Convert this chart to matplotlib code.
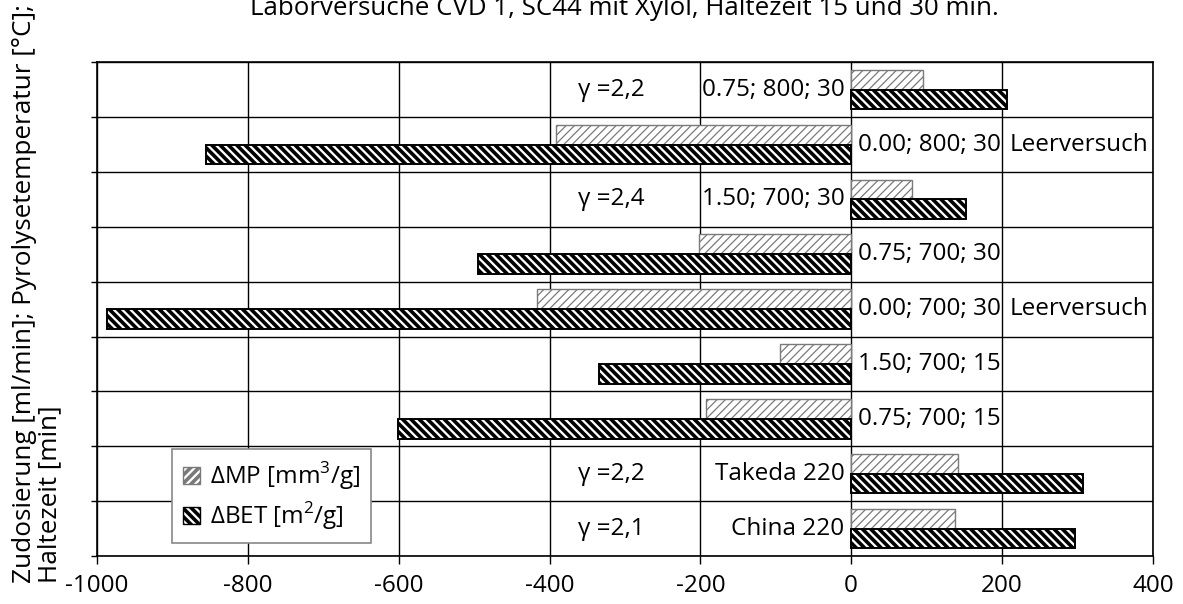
import numpy as np
import matplotlib
matplotlib.use("Agg")
import matplotlib.pyplot as plt
from matplotlib.patches import Patch

plt.rcParams['font.family'] = ['Open Sans', 'DejaVu Sans']
plt.rcParams['mathtext.fontset'] = 'custom'
plt.rcParams['mathtext.rm'] = 'Open Sans'

# --- data, top row first ---
proben = ["0.75; 800; 30", "0.00; 800; 30", "1.50; 700; 30", "0.75; 700; 30",
          "0.00; 700; 30", "1.50; 700; 15", "0.75; 700; 15", "Takeda 220", "China 220"]
d_mp = [95, -392, 80, -202, -416, -94, -193, 142, 138]
d_bet = [207, -855, 152, -495, -987, -334, -601, 308, 297]
gamma = ["γ =2,2", "", "γ =2,4", "", "", "", "", "γ =2,2", "γ =2,1"]
bemerkung = ["", "Leerversuch", "", "", "Leerversuch", "", "", "", ""]
x_ticks = [-1000, -800, -600, -400, -200, 0, 200, 400]

fs = 17.5

fig = plt.figure(figsize=(11.83, 6.04), dpi=100)
ax = fig.add_axes([0.082, 0.0795, 0.8925, 0.8175])

y = np.arange(len(proben))
h = 0.36

plt.rcParams['hatch.linewidth'] = 0.9
b1 = ax.barh(y - h / 2, d_mp, height=h, color='white', edgecolor='#7a7a7a',
             hatch='////', linewidth=1.0, zorder=3)
plt.rcParams['hatch.linewidth'] = 2.6
b2 = ax.barh(y + h / 2, d_bet, height=h, color='white', edgecolor='black',
             hatch='\\\\\\\\', linewidth=1.4, zorder=3)
for p in b1:
    if hasattr(p, 'set_hatch_linewidth'):
        p.set_hatch_linewidth(0.9)

# --- labels next to the zero line ---
for i, name in enumerate(proben):
    if max(d_mp[i], d_bet[i]) > 0:
        ax.text(-9, i, name, ha='right', va='center', fontsize=fs, zorder=4)
    else:
        ax.text(9, i, name, ha='left', va='center', fontsize=fs, zorder=4)
    if gamma[i]:
        ax.text(-318, i, gamma[i], ha='center', va='center', fontsize=fs)
    if bemerkung[i]:
        ax.text(210, i, bemerkung[i], ha='left', va='center', fontsize=fs)

# --- axes formatting ---
ax.set_xlim(-1000, 400)
ax.set_ylim(len(proben) - 0.5, -0.5)
ax.set_xticks(x_ticks)
ax.set_xticklabels([str(t) for t in x_ticks], fontsize=17.5)
ax.set_yticks(np.arange(-0.5, len(proben), 1))
ax.set_yticklabels([])
ax.tick_params(axis='x', length=6, width=1, pad=7)
ax.tick_params(axis='y', length=4, width=1)
ax.grid(True, color='black', linewidth=1, zorder=0)
ax.set_axisbelow(True)
for s in ax.spines.values():
    s.set_linewidth(1.2)

leg = ax.legend([Patch(facecolor='white', edgecolor='#7a7a7a', hatch='////'),
                 Patch(facecolor='white', edgecolor='black', hatch='\\\\\\\\')],
                ['ΔMP [mm$^3$/g]', 'ΔBET [m$^2$/g]'],
                loc='lower left', bbox_to_anchor=(0.071, 0.026), borderaxespad=0,
                fontsize=fs, fancybox=False, framealpha=1, edgecolor='#888888',
                handlelength=0.7, handleheight=0.7, handletextpad=0.4,
                borderpad=0.45, labelspacing=0.35)
leg.get_frame().set_linewidth(1.2)

fig.text(0.528, 1 - 15 / 604, "Laborversuche CVD 1, SC44 mit Xylol, Haltezeit 15 und 30 min.",
         ha='center', va='baseline', fontsize=18.6)
fig.text(0.010, 1 - 583 / 604, "Zudosierung [ml/min]; Pyrolysetemperatur [°C];\nHaltezeit [min]",
         rotation=90, ha='left', va='bottom', multialignment='left', fontsize=18.8,
         linespacing=1.0)

fig.savefig('out.png', dpi=100)
